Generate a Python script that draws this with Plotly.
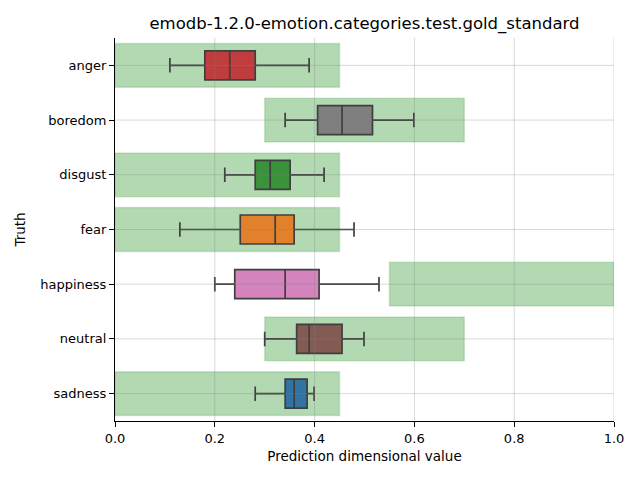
import plotly.graph_objects as go

categories = ["anger", "boredom", "disgust", "fear", "happiness", "neutral", "sadness"]
lower_whisker = [0.110, 0.341, 0.220, 0.130, 0.200, 0.300, 0.281]
q1 = [0.180, 0.406, 0.281, 0.251, 0.240, 0.364, 0.341]
median = [0.230, 0.455, 0.311, 0.321, 0.341, 0.389, 0.359]
q3 = [0.281, 0.516, 0.351, 0.359, 0.409, 0.455, 0.385]
upper_whisker = [0.389, 0.599, 0.419, 0.479, 0.529, 0.499, 0.399]
range_low = [0.0, 0.3, 0.0, 0.0, 0.55, 0.3, 0.0]
range_high = [0.45, 0.7, 0.45, 0.45, 1.0, 0.7, 0.45]
box_colors = ["#c03d3e", "#7f7f7f", "#3a923a", "#e1812c", "#d684bd", "#845b53", "#3274a1"]
x_ticks = [0.0, 0.2, 0.4, 0.6, 0.8, 1.0]
x_tick_labels = ["0.0", "0.2", "0.4", "0.6", "0.8", "1.0"]

fig = go.Figure()

# expected ranges
fig.add_trace(go.Bar(
    y=categories,
    x=[h - l for l, h in zip(range_low, range_high)],
    base=range_low,
    orientation="h",
    width=0.8,
    marker=dict(color="rgba(0,128,0,0.3)", line=dict(color="rgba(0,128,0,0.15)", width=1.5)),
    showlegend=False,
    hoverinfo="skip",
))

for i, cat in enumerate(categories):
    fig.add_trace(go.Box(
        y=[cat],
        q1=[q1[i]],
        median=[median[i]],
        q3=[q3[i]],
        lowerfence=[lower_whisker[i]],
        upperfence=[upper_whisker[i]],
        orientation="h",
        width=0.53,
        whiskerwidth=0.5,
        fillcolor=box_colors[i],
        line=dict(color="#3f3f3f", width=1.7),
        showlegend=False,
    ))

shapes = []
grid_color = "rgba(128,128,128,0.3)"
for xv in x_ticks[1:]:
    shapes.append(dict(type="line", xref="x", yref="paper", x0=xv, x1=xv, y0=0, y1=1,
                       line=dict(color=grid_color, width=1), layer="above"))
for i, cat in enumerate(categories):
    shapes.append(dict(type="line", xref="paper", yref="y", x0=0, x1=1, y0=i, y1=i,
                       line=dict(color=grid_color, width=1), layer="above"))

fig.update_layout(
    width=640, height=480,
    margin=dict(l=115, r=26, t=38, b=59),
    paper_bgcolor="white", plot_bgcolor="white",
    font=dict(family="DejaVu Sans", size=13, color="black"),
    title=dict(text="emodb-1.2.0-emotion.categories.test.gold_standard",
               x=0.5, xref="paper", y=1 - 23 / 480, yref="container",
               xanchor="center", yanchor="middle", font=dict(size=16.5)),
    shapes=shapes,
    barmode="overlay",
    boxmode="overlay",
)
fig.update_xaxes(
    range=[0, 1], tickvals=x_ticks, ticktext=x_tick_labels,
    showgrid=False, zeroline=False, showline=True, linecolor="black", linewidth=1.1,
    ticks="outside", ticklen=5, tickwidth=1.1, tickcolor="black", automargin=False,
    title=dict(text="Prediction dimensional value", font=dict(size=13.5), standoff=6),
)
fig.update_yaxes(
    categoryorder="array", categoryarray=categories, range=[6.5, -0.5],
    showgrid=False, zeroline=False, showline=True, linecolor="black", linewidth=1.1,
    ticks="outside", ticklen=5, tickwidth=1.1, tickcolor="black", automargin=False,
    title=dict(text="Truth", font=dict(size=13.5), standoff=11),
)

fig.write_html("out.html", config={"displayModeBar": False},
               post_script="document.body.style.margin='0';")
